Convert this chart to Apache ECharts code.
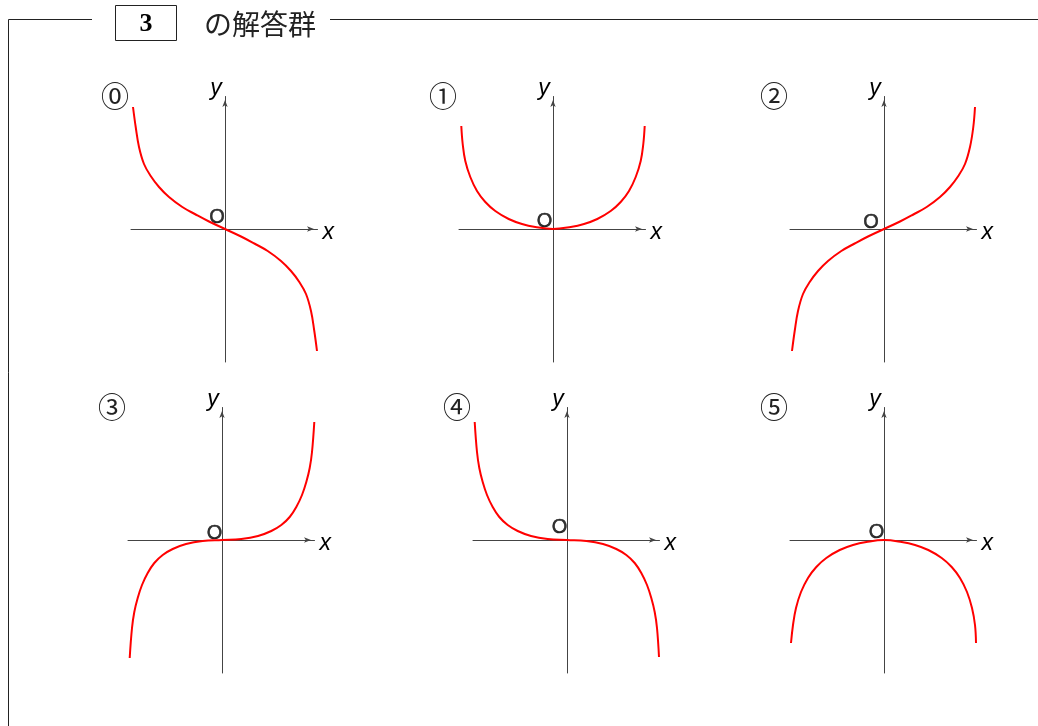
<!DOCTYPE html>
<html><head><meta charset="utf-8">
<script src="https://cdn.jsdelivr.net/npm/echarts@6/dist/echarts.min.js"></script>
<style>html,body{margin:0;padding:0;background:#fff}#c{width:1038px;height:726px}</style>
</head><body><div id="c"></div>
<script>
// ---- data (units: tenths of the drawing's pixel scale) ----
const headingNumber = '3';
const headingText = 'の解答群';
const panelLabels = ['⓪', '①', '②', '③', '④', '⑤'];
const axisNames = ['x', 'y'];
const originLabel = 'O';

const curve0X = [-9.2, -8.93, -8.6, -8.1, -7.43, -6.6, -5.6, -4.27, -2.93, -1.6, 0, 1.6, 2.93, 4.27, 5.6, 6.6, 7.43, 8.1, 8.6, 8.93, 9.2];
const curve0Y = [12.2, 10.2, 8.2, 6.5, 5.3, 4.2, 3.2, 2.2, 1.45, 0.75, 0, -0.75, -1.45, -2.2, -3.2, -4.2, -5.3, -6.5, -8.2, -10.2, -12.2];

const curve1X = [-9.17, -9.03, -8.77, -8.27, -7.6, -6.77, -5.77, -4.43, -3.1, -1.77, 0, 1.77, 3.1, 4.43, 5.77, 6.77, 7.6, 8.27, 8.77, 9.03, 9.17];
const curve1Y = [10.3, 8.5, 6.8, 5.2, 3.8, 2.7, 1.8, 1.0, 0.5, 0.2, 0, 0.2, 0.5, 1.0, 1.8, 2.7, 3.8, 5.2, 6.8, 8.5, 10.3];

const curve2X = [-9.2, -8.93, -8.6, -8.1, -7.43, -6.6, -5.6, -4.27, -2.93, -1.6, 0, 1.6, 2.93, 4.27, 5.6, 6.6, 7.43, 8.1, 8.6, 8.93, 9.1];
const curve2Y = [-12.2, -10.2, -8.2, -6.5, -5.3, -4.2, -3.2, -2.2, -1.45, -0.75, 0, 0.75, 1.45, 2.2, 3.2, 4.2, 5.3, 6.5, 8.2, 10.2, 12.2];

const curve3X = [-9.23, -9.0, -8.77, -8.43, -8.0, -7.43, -6.77, -5.93, -4.93, -3.6, -1.93, 0, 1.93, 3.6, 4.93, 5.93, 6.77, 7.43, 8.0, 8.43, 8.77, 9.0, 9.23];
const curve3Y = [-11.8, -8.8, -7.2, -5.8, -4.5, -3.3, -2.3, -1.5, -0.9, -0.4, -0.1, 0, 0.1, 0.4, 0.9, 1.5, 2.3, 3.3, 4.5, 5.8, 7.2, 8.8, 11.8];

const curve4X = [-9.23, -9.0, -8.77, -8.43, -8.0, -7.43, -6.77, -5.93, -4.93, -3.6, -1.93, 0, 1.93, 3.6, 4.93, 5.93, 6.77, 7.43, 8.0, 8.43, 8.77, 9.0, 9.2];
const curve4Y = [11.8, 8.8, 7.2, 5.8, 4.5, 3.3, 2.3, 1.5, 0.9, 0.4, 0.1, 0, -0.1, -0.4, -0.9, -1.5, -2.3, -3.3, -4.5, -5.8, -7.2, -8.8, -11.7];

const curve5X = [-9.3, -9.1, -8.8, -8.3, -7.6, -6.77, -5.77, -4.43, -3.1, -1.77, 0, 1.77, 3.1, 4.43, 5.77, 6.77, 7.6, 8.3, 8.8, 9.1, 9.2];
const curve5Y = [-10.3, -8.5, -6.8, -5.2, -3.8, -2.7, -1.8, -1.0, -0.5, -0.2, 0, -0.2, -0.5, -1.0, -1.8, -2.7, -3.8, -5.2, -6.8, -8.5, -10.3];

const axisXRange = [-9.4, 9.25];
const axisYRange = [-13.3, 13.25];

// ---- layout / style ----
const curvesX = [curve0X, curve1X, curve2X, curve3X, curve4X, curve5X];
const curvesY = [curve0Y, curve1Y, curve2Y, curve3Y, curve4Y, curve5Y];
const origins = [[225, 229], [553, 229], [884, 229], [222, 540], [567, 540], [884, 540]];
const oOffsets = [[-8, -12], [-8.5, -8], [-13, -7], [-7.5, -7], [-7.5, -12.5], [-7.5, -8]];
const PX = 10; // pixels per data unit

const grids = [], xAxes = [], yAxes = [], series = [], graphics = [];
origins.forEach(function (o, i) {
  const left = o[0] + axisXRange[0] * PX;
  const top = o[1] - axisYRange[1] * PX;
  grids.push({
    left: left, top: top,
    width: (axisXRange[1] - axisXRange[0]) * PX,
    height: (axisYRange[1] - axisYRange[0]) * PX
  });
  const axisLine = {
    show: true, onZero: true,
    symbol: ['none', 'arrow'], symbolSize: [4, 7], symbolOffset: [0, -3.5],
    lineStyle: { color: '#444', width: 1 }
  };
  xAxes.push({
    type: 'value', gridIndex: i, min: axisXRange[0], max: axisXRange[1],
    axisLine: axisLine, axisTick: { show: false }, axisLabel: { show: false }, splitLine: { show: false },
    name: axisNames[0], nameLocation: 'end', nameGap: 5,
    nameTextStyle: { fontFamily: 'Liberation Sans', fontStyle: 'italic', fontSize: 23, color: '#000',
      verticalAlign: 'top', lineHeight: 8 }
  });
  yAxes.push({
    type: 'value', gridIndex: i, min: axisYRange[0], max: axisYRange[1],
    axisLine: axisLine, axisTick: { show: false }, axisLabel: { show: false }, splitLine: { show: false },
    name: axisNames[1], nameLocation: 'end', nameGap: -4,
    nameTextStyle: { fontFamily: 'Liberation Sans', fontStyle: 'italic', fontSize: 23, color: '#000', padding: [0, 18, 0, 0] }
  });
  series.push({
    type: 'line', xAxisIndex: i, yAxisIndex: i, clip: false,
    data: curvesX[i].map(function (x, k) { return [x, curvesY[i][k]]; }),
    smooth: 0.4, showSymbol: false, silent: true,
    lineStyle: { color: '#ff0000', width: 2 }
  });
  series.push({
    type: 'scatter', xAxisIndex: i, yAxisIndex: i, silent: true,
    data: [[0, 0]], symbolSize: 1, itemStyle: { color: 'rgba(255,255,255,0)' },
    label: {
      show: true, formatter: originLabel, position: 'inside', offset: oOffsets[i],
      fontFamily: 'Liberation Sans', fontSize: 20, color: '#000',
      textBorderColor: '#000', textBorderWidth: 0.5
    }
  });
  graphics.push({
    type: 'text', x: o[0] - 110, y: o[1] - 129,
    style: { text: panelLabels[i], x: 0, y: 0, align: 'center', verticalAlign: 'middle',
      font: '28px "DejaVu Serif", "Noto Sans CJK JP"', fill: '#222' }
  });
});

// frame + heading
graphics.push(
  { type: 'line', shape: { x1: 8.5, y1: 19.5, x2: 92, y2: 19.5 }, style: { stroke: '#222', lineWidth: 1 } },
  { type: 'line', shape: { x1: 330, y1: 19.5, x2: 1038, y2: 19.5 }, style: { stroke: '#222', lineWidth: 1 } },
  { type: 'line', shape: { x1: 8.5, y1: 19.5, x2: 8.5, y2: 726 }, style: { stroke: '#222', lineWidth: 1 } },
  { type: 'rect', shape: { x: 115.5, y: 5.5, width: 61, height: 35 }, style: { fill: 'none', stroke: '#222', lineWidth: 1 } },
  { type: 'text', x: 146, y: 24, style: { text: headingNumber, align: 'center', verticalAlign: 'middle',
      font: 'bold 26px "Liberation Serif"', fill: '#000' } },
  { type: 'text', x: 204, y: 24, style: { text: headingText, align: 'left', verticalAlign: 'middle',
      font: '28px "Noto Sans CJK JP"', fill: '#222' } }
);

const chart = echarts.init(document.getElementById('c'), null, { renderer: 'canvas' });
chart.setOption({
  animation: false,
  backgroundColor: '#fff',
  grid: grids, xAxis: xAxes, yAxis: yAxes, series: series,
  graphic: graphics
});
</script>
</body></html>
